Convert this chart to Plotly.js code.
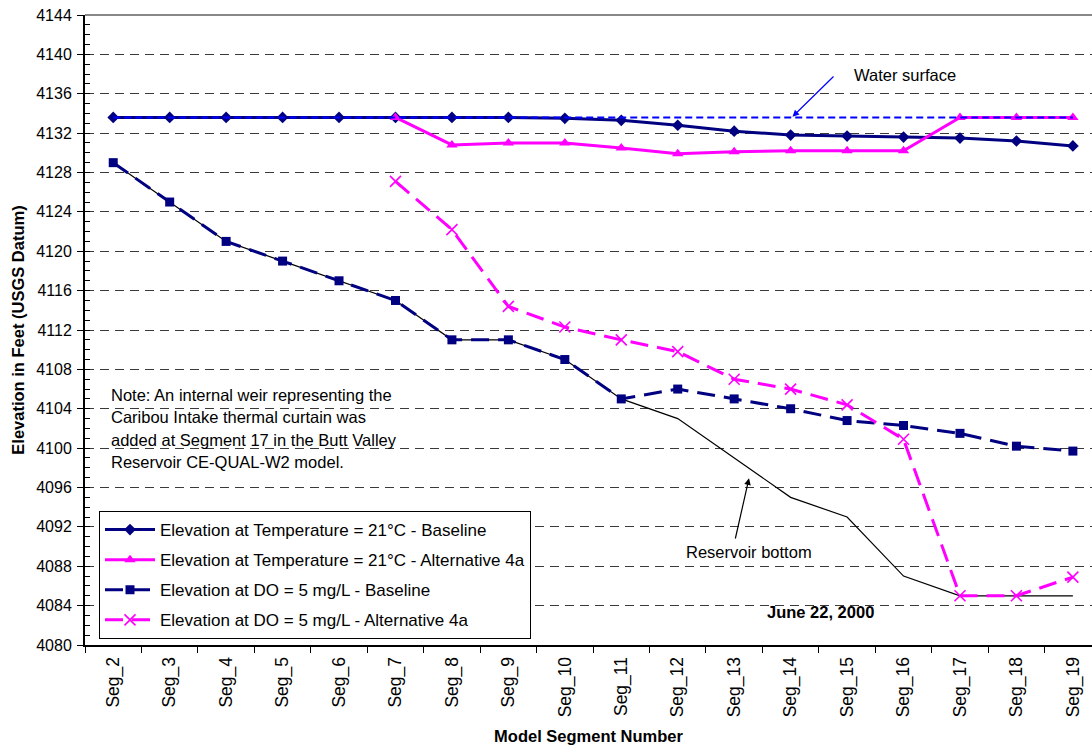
<!DOCTYPE html>
<html>
<head>
<meta charset="utf-8">
<script src="https://cdn.plot.ly/plotly-3.0.1.min.js"></script>
<style>
html,body{margin:0;padding:0;background:#fff;overflow:hidden;}
#chart{width:1092px;height:745px;}
</style>
</head>
<body>
<div id="chart"></div>
<script>
// ---- Data ----
var segments = ['Seg_2','Seg_3','Seg_4','Seg_5','Seg_6','Seg_7','Seg_8','Seg_9','Seg_10',
                'Seg_11','Seg_12','Seg_13','Seg_14','Seg_15','Seg_16','Seg_17','Seg_18','Seg_19'];

var tempBaseline = [4133.6,4133.6,4133.6,4133.6,4133.6,4133.6,4133.6,4133.6,4133.5,
                    4133.3,4132.8,4132.2,4131.8,4131.7,4131.6,4131.5,4131.2,4130.7];

var tempAlt4a = [null,null,null,null,null,4133.6,4130.8,4131.0,4131.0,
                 4130.5,4129.9,4130.1,4130.2,4130.2,4130.2,4133.6,4133.6,4133.6];

var doBaseline = [4129,4125,4121,4119,4117,4115,4111,4111,4109,
                  4105,4106,4105,4104,4102.8,4102.3,4101.5,4100.2,4099.7];

var doAlt4a = [null,null,null,null,null,4127.1,4122.2,4114.4,4112.3,
               4111.0,4109.8,4107.0,4106.0,4104.4,4100.9,4085.0,4085.0,4086.9];

var reservoirBottom = [4129,4125,4121,4119,4117,4115,4111,4111,4109,
                       4105,4103,4099,4095,4093,4087,4085,4085,4085];

var waterSurface = [4133.6,4133.6,4133.6,4133.6,4133.6,4133.6,4133.6,4133.6,4133.6,
                    4133.6,4133.6,4133.6,4133.6,4133.6,4133.6,4133.6,4133.6,4133.6];

var legendNames = ['Elevation at Temperature = 21°C - Baseline',
                   'Elevation at Temperature = 21°C - Alternative 4a',
                   'Elevation at DO = 5 mg/L - Baseline',
                   'Elevation at DO = 5 mg/L - Alternative 4a'];

var yTickMin = 4080, yTickMax = 4144, yTickStep = 4;

// ---- Layout helpers (pixel -> paper) ----
var W = 1092, H = 745, ML = 85, MR = 0, MT = 15, MB = 100;
var PW = W - ML - MR, PH = H - MT - MB;
function px(x){ return (x - ML) / PW; }
function py(y){ return (MT + PH - y) / PH; }

var FONT = 'Liberation Sans, Arial, sans-serif';
var FS = 16.5;   // notes, titles
var FL = 17;     // legend
var FT = 16;     // y tick labels
var FX = 17.5;   // x tick labels
var NAVY = '#000080', MAG = '#FF00FF';

var traces = [
  {x: segments, y: reservoirBottom, type:'scatter', mode:'lines', name:'Reservoir bottom',
   line:{color:'#000000', width:1.2}, showlegend:false, hoverinfo:'skip'},
  {x: segments, y: doBaseline, type:'scatter', mode:'lines+markers', name: legendNames[2],
   legendgroup:'g3', legendrank:3,
   line:{color:NAVY, width:3, dash:'18px,9px'},
   marker:{symbol:'square', size:9, color:NAVY}},
  {x: segments, y: doAlt4a, type:'scatter', mode:'lines+markers', name: legendNames[3],
   legendgroup:'g4', legendrank:4,
   line:{color:MAG, width:3, dash:'18px,9px'},
   marker:{symbol:'x-thin-open', size:11, color:MAG, line:{color:MAG, width:1.6}}},
  {x: segments, y: tempBaseline, type:'scatter', mode:'lines+markers', name: legendNames[0],
   legendgroup:'g1', legendrank:1,
   line:{color:NAVY, width:3},
   marker:{symbol:'diamond', size:9, color:NAVY}},
  {x: segments, y: tempAlt4a, type:'scatter', mode:'lines+markers', name: legendNames[1],
   legendgroup:'g2', legendrank:2,
   line:{color:MAG, width:3},
   marker:{symbol:'triangle-up', size:10, color:MAG}},
  {x: segments, y: waterSurface, type:'scatter', mode:'lines', name:'Water surface',
   line:{color:'#0000FF', width:2, dash:'7px,4px'}, showlegend:false, hoverinfo:'skip'},
  {x: [], y: [], yaxis:'y2', type:'scatter', mode:'lines', showlegend:false, hoverinfo:'skip'}
];

var yTicks = [];
for (var v = yTickMin; v <= yTickMax; v += yTickStep) yTicks.push(v);

var noteLines = ['Note: An internal weir representing the',
                 'Caribou Intake thermal curtain was',
                 'added at Segment 17 in the Butt Valley',
                 'Reservoir CE-QUAL-W2 model.'];
var noteY = [395, 417.5, 440, 462];

var annotations = [
  {xref:'paper', yref:'paper', x:px(904.5), y:py(75), text:'Water surface', showarrow:false,
   font:{family:FONT, size:FS, color:'#000'}, xanchor:'center', yanchor:'middle'},
  {xref:'paper', yref:'paper', x:px(792.5), y:py(116.7), text:'', showarrow:true,
   ax:42.5, ay:-41.7, arrowhead:2, arrowsize:1.1, arrowwidth:1.2, arrowcolor:'#0000FF'},
  {xref:'paper', yref:'paper', x:px(749), y:py(551.5), text:'Reservoir bottom', showarrow:false,
   font:{family:FONT, size:FS, color:'#000'}, xanchor:'center', yanchor:'middle'},
  {xref:'paper', yref:'paper', x:px(749), y:py(478.3), text:'', showarrow:true,
   ax:-14, ay:61.7, arrowhead:2, arrowsize:1.1, arrowwidth:1.2, arrowcolor:'#000000'},
  {xref:'paper', yref:'paper', x:px(820), y:py(611.7), text:'<b>June 22, 2000</b>', showarrow:false,
   font:{family:FONT, size:FS, color:'#000'}, xanchor:'center', yanchor:'middle'}
];
noteLines.forEach(function(t, i){
  annotations.push({xref:'paper', yref:'paper', x:px(109), y:py(noteY[i]), text:t, showarrow:false,
    font:{family:FONT, size:FS, color:'#000'}, xanchor:'left', yanchor:'middle', align:'left'});
});

var layout = {
  width: W, height: H,
  margin:{l:ML, r:MR, t:MT, b:MB, pad:0},
  paper_bgcolor:'#ffffff', plot_bgcolor:'#ffffff',
  font:{family:FONT, size:FS, color:'#000'},
  showlegend:true,
  legend:{x:px(99), y:py(511), xanchor:'left', yanchor:'top',
          bgcolor:'#ffffff', bordercolor:'#000000', borderwidth:1,
          font:{family:FONT, size:FL, color:'#000'},
          tracegroupgap:5, itemwidth:50, traceorder:'grouped'},
  xaxis:{type:'category', categoryorder:'array', categoryarray:segments,
         range:[-0.5, -0.5 + PW/56.45],
         tickson:'boundaries', ticks:'outside', ticklen:6, tickwidth:1, tickcolor:'#000',
         tickangle:-90, tickfont:{family:FONT, size:FX, color:'#000'}, ticklabelstandoff:3,
         showline:true, linecolor:'#000', linewidth:2, showgrid:false, zeroline:false,
         title:{text:'<b>Model Segment Number</b>', font:{family:FONT, size:FS, color:'#000'}, standoff:16},
         automargin:false, fixedrange:true},
  yaxis:{range:[yTickMin, yTickMax], tickvals:yTicks, ticktext:yTicks.map(String),
         ticks:'outside', ticklen:6, tickwidth:1, tickcolor:'#000', ticklabelstandoff:2,
         tickfont:{family:FONT, size:FT, color:'#000'},
         showline:true, linecolor:'#000', linewidth:2,
         showgrid:true, gridcolor:'#3a3a3a', gridwidth:1, griddash:'9px,6px', zeroline:false,
         minor:{dtick:1, tick0:yTickMin, ticks:'inside', ticklen:5, tickwidth:1, tickcolor:'#000', showgrid:false},
         title:{text:'<b>Elevation in Feet (USGS Datum)</b>', font:{family:FONT, size:FS, color:'#000'}, standoff:7},
         automargin:false, fixedrange:true},
  yaxis2:{overlaying:'y', side:'left', range:[yTickMin, yTickMax], tickvals:yTicks,
          ticks:'inside', ticklen:5, tickwidth:1, tickcolor:'#000',
          showticklabels:false, showgrid:false, showline:false, zeroline:false, fixedrange:true},
  shapes:[
    {type:'line', xref:'paper', yref:'paper', x0:0, x1:1, y0:1, y1:1, line:{color:'#888888', width:2}},
    {type:'rect', xref:'paper', yref:'paper', x0:px(103), x1:px(423), y0:py(472), y1:py(380),
     fillcolor:'#ffffff', line:{width:0}, layer:'between'}
  ],
  annotations: annotations
};

Plotly.newPlot('chart', traces, layout, {displayModeBar:false, staticPlot:true});
</script>
</body>
</html>
